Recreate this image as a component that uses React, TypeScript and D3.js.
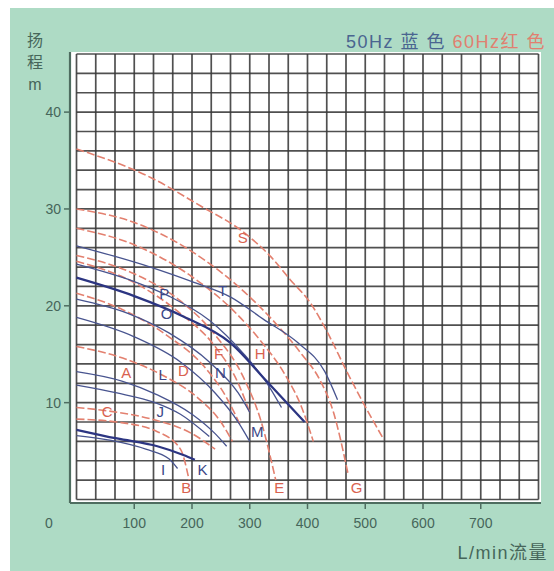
import React from 'react';
import * as d3 from 'd3';

// Flow (L/min) vs head (m) pump curves
const xTicks = [100, 200, 300, 400, 500, 600, 700];
const yTicks = [10, 20, 30, 40];

// 60Hz (red)
const curveS = [[0, 36.2], [130, 33.2], [215, 30.3], [287, 27.7], [336, 25.1], [370, 22.7], [405, 20.3], [435, 17.2], [469, 13.1], [500, 9.6], [532, 6.2]];
const curveG = [[0, 30], [100, 28.6], [200, 25.6], [280, 22], [340, 18.5], [390, 15], [420, 12.5], [445, 9], [470, 2.7]];
const curveH = [[0, 28], [100, 26.3], [200, 23], [270, 19.6], [320, 16.3], [360, 13], [390, 9.5], [410, 6]];
const curveE = [[0, 25.2], [100, 23.3], [180, 20.5], [240, 17], [290, 12.5], [320, 8], [345, 2]];
const curveF = [[0, 24.6], [100, 22.4], [180, 19.2], [240, 15.8], [280, 12], [300, 9]];
const curveD = [[0, 21.3], [80, 19.6], [160, 16.8], [220, 13.8], [260, 10.5], [285, 7.5]];
const curveA = [[0, 15.8], [80, 14.6], [150, 12.8], [210, 10.5], [250, 8], [270, 6]];
const curveC = [[0, 9.5], [60, 9.1], [130, 8.3], [200, 6.8], [240, 5.2]];
const curveB = [[0, 8.3], [70, 8], [140, 7], [180, 5.2], [195, 2]];

// 50Hz (blue)
const curveT = [[0, 26.2], [128, 24], [200, 22.5], [267, 20.9], [324, 18.6], [383, 16.2], [430, 13.2], [452, 10.3]];
const curveP = [[0, 24.3], [100, 22.5], [160, 21], [230, 18.5], [290, 15], [330, 12], [355, 9.5]];
const curveN = [[0, 22.9], [100, 21], [185, 18.9], [266, 16.2], [331, 12.1], [395, 8]];
const curveO = [[0, 20.7], [90, 19.2], [160, 17.2], [230, 14.2], [280, 11], [300, 9]];
const curveM = [[0, 18.8], [100, 16.8], [180, 14.2], [240, 11], [280, 8], [300, 6]];
const curveL = [[0, 13.2], [80, 12.2], [140, 10.8], [200, 8.8], [240, 6.8], [260, 5.5]];
const curveJ = [[0, 11.8], [70, 11], [136, 10], [180, 8.8], [230, 6.5]];
const curveK = [[0, 7.2], [70, 6.3], [140, 5.5], [185, 4.6], [205, 4.1]];
const curveI = [[0, 6.6], [60, 6.1], [120, 5.2], [160, 4.2], [175, 3.2]];

const redCurves = [curveS, curveG, curveH, curveE, curveF, curveD, curveA, curveC, curveB];
const blueCurves = [curveT, curveP, curveN, curveO, curveM, curveL, curveJ, curveK, curveI];
const thickBlue = [curveN, curveK];

const redLabels = ['S', 'H', 'F', 'D', 'A', 'C', 'B', 'E', 'G'];
const redLabelQ = [288, 318, 246, 185, 86, 53, 190, 351, 485];
const redLabelH = [27.0, 15.1, 15.1, 13.3, 13.1, 9.1, 1.2, 1.2, 1.2];
const blueLabels = ['T', 'P', 'O', 'N', 'L', 'J', 'M', 'I', 'K'];
const blueLabelQ = [253, 152, 156, 249, 149, 145, 313, 150, 218];
const blueLabelH = [21.6, 21.2, 19.2, 13.1, 12.9, 9.1, 7.0, 3.1, 3.1];

const W = 554;
const H = 571;

export default function App() {
  const x = d3.scaleLinear().domain([0, 800]).range([76.5, 538.5]);
  const y = d3.scaleLinear().domain([0, 46]).range([499.5, 54]);
  const line = d3
    .line<number[]>()
    .x((d) => x(d[0]))
    .y((d) => y(d[1]))
    .curve(d3.curveMonotoneX);

  const vGrid = d3.range(0, 24 + 1).map((i) => (i * 100) / 3);
  const hGrid = d3.range(0, 46 + 1, 2);
  const axisColor = '#4e6d60';
  const textColor = '#46665a';
  const font = 'Arial, "Liberation Sans", "Noto Sans CJK SC", sans-serif';

  return (
    <div style={{ position: 'absolute', left: 0, top: 0 }}>
      <svg width={W} height={H} style={{ display: 'block' }}>
        <rect x={0} y={0} width={W} height={H} fill="#ffffff" />
        <rect x={10} y={8} width={W - 10} height={H - 8} fill="#aedbc5" />
        <rect x={70} y={52} width={471} height={451} fill="#ffffff" />
        {/* grid */}
        {vGrid.map((v, i) => (
          <line key={'v' + i} x1={x(v)} x2={x(v)} y1={y(46)} y2={y(0)} stroke="#383838" strokeWidth={1.7} opacity={0.88} />
        ))}
        {hGrid.map((v, i) => (
          <line key={'h' + i} x1={x(0)} x2={x(800)} y1={y(v)} y2={y(v)} stroke="#383838" strokeWidth={1.7} opacity={0.88} />
        ))}
        {/* axes */}
        <line x1={70} x2={70} y1={52} y2={503} stroke={axisColor} strokeWidth={2.2} />
        <line x1={70} x2={541} y1={503} y2={503} stroke={axisColor} strokeWidth={2.2} />
        {yTicks.map((t) => (
          <g key={'yt' + t}>
            <line x1={64} x2={70} y1={y(t)} y2={y(t)} stroke={axisColor} strokeWidth={1.5} />
            <text x={61} y={y(t)} dy="0.35em" textAnchor="end" fontFamily={font} fontSize={14} fill={textColor}>
              {t}
            </text>
          </g>
        ))}
        {xTicks.map((t) => (
          <g key={'xt' + t}>
            <line x1={x(t)} x2={x(t)} y1={503} y2={509} stroke={axisColor} strokeWidth={1.5} />
            <text x={x(t)} y={528} textAnchor="middle" fontFamily={font} fontSize={14} fill={textColor}>
              {t}
            </text>
          </g>
        ))}
        <text x={49} y={528} textAnchor="middle" fontFamily={font} fontSize={14} fill={textColor}>
          0
        </text>
        {/* curves */}
        {redCurves.map((c, i) => (
          <path key={'r' + i} d={line(c as number[][]) || ''} fill="none" stroke="#e3806f" strokeWidth={1.6} strokeDasharray="8 3" />
        ))}
        {blueCurves.map((c, i) => (
          <path
            key={'b' + i}
            d={line(c as number[][]) || ''}
            fill="none"
            stroke={thickBlue.includes(c) ? '#2c3582' : '#48548f'}
            strokeWidth={thickBlue.includes(c) ? 2.3 : 1.3}
          />
        ))}
        {/* labels */}
        {redLabels.map((l, i) => (
          <text key={'rl' + l} x={x(redLabelQ[i])} y={y(redLabelH[i])} dy="0.35em" textAnchor="middle" fontFamily={font} fontSize={15} fill="#d9624f">
            {l}
          </text>
        ))}
        {blueLabels.map((l, i) => (
          <text key={'bl' + l} x={x(blueLabelQ[i])} y={y(blueLabelH[i])} dy="0.35em" textAnchor="middle" fontFamily={font} fontSize={15} fill="#3b4787">
            {l}
          </text>
        ))}
        {/* titles */}
        {['扬', '程', 'm'].map((c, i) => (
          <text key={'yl' + i} x={35} y={46 + i * 22} textAnchor="middle" fontFamily={font} fontSize={16} fill={textColor}>
            {c}
          </text>
        ))}
        <text x={546} y={48} textAnchor="end" fontFamily={font} fontSize={18} letterSpacing={1.5}>
          <tspan fill="#4a6590">50Hz 蓝 色 </tspan>
          <tspan fill="#e08070">60Hz红 色</tspan>
        </text>
        <text x={548} y={559} textAnchor="end" fontFamily={font} fontSize={18} letterSpacing={1.5} fill={textColor}>
          L/min流量
        </text>
      </svg>
    </div>
  );
}
